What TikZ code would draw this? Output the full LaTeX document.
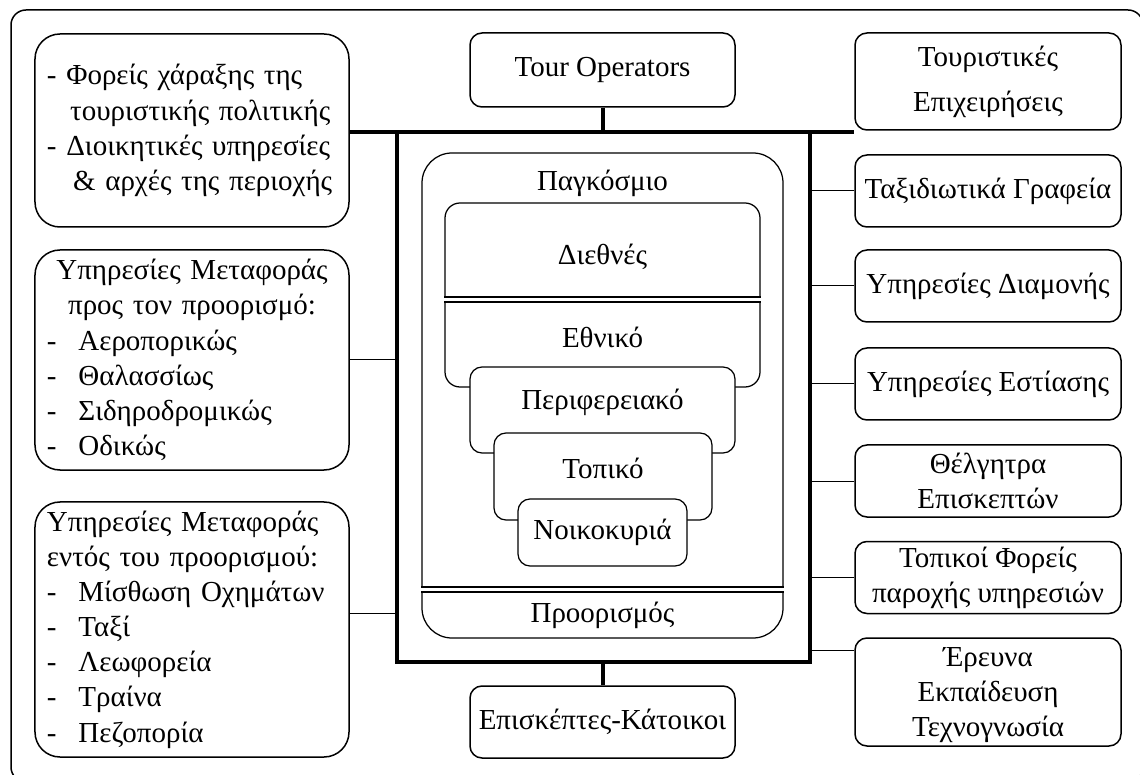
\documentclass[tikz,border=0pt]{standalone}
\usepackage{fontspec}
\setmainfont{Liberation Serif}
\usetikzlibrary{positioning}

\tikzset{
  box/.style={draw, fill=white, line width=0.3mm, rounded corners=2.4mm, inner sep=1pt, align=center},
  sidebox/.style={box, rounded corners=5mm, minimum width=62.8mm, inner xsep=2.4mm, text width=58mm, align=left},
  rbox/.style={box, minimum width=53.2mm},
  lvl/.style={draw, fill=white, line width=0.25mm, rounded corners=2.4mm, inner sep=0pt},
  bus/.style={line width=0.8mm},
  link/.style={line width=0.2mm},
  dbl/.style={double, line width=0.5mm, double distance=0.5mm}
}

\begin{document}
\begin{tikzpicture}[x=0.2mm, y=-0.2mm, font=\fontsize{16.5}{20}\selectfont]
        \useasboundingbox (0,0) rectangle (1140,775);

        % Outer frame
        \draw[line width=0.3mm, rounded corners=3mm] (11,10) rectangle (1143,782);

        % Left side boxes
        \node[sidebox, minimum height=38.6mm] (policy) at (192,130.5)
            {- Φορείς χάραξης της\\\hspace*{0.8em}τουριστικής πολιτικής\\- Διοικητικές υπηρεσίες\\\hspace*{0.9em}\& αρχές της περιοχής};
        \node[sidebox, minimum height=44mm] (transTo) at (192,360)
            {{\centering Υπηρεσίες Μεταφοράς\\προς τον προορισμό:\par}
             -\hspace{0.75em}Αεροπορικώς\\-\hspace{0.75em}Θαλασσίως\\-\hspace{0.75em}Σιδηροδρομικώς\\-\hspace{0.75em}Οδικώς};
        \node[sidebox, minimum height=51mm] (transIn) at (192,629.5)
            {Υπηρεσίες Μεταφοράς\\εντός του προορισμού:\\-\hspace{0.75em}Μίσθωση Οχημάτων\\-\hspace{0.75em}Ταξί\\-\hspace{0.75em}Λεωφορεία\\-\hspace{0.75em}Τραίνα\\-\hspace{0.75em}Πεζοπορία};

        % Top and bottom boxes
        \node[box, minimum width=53mm, minimum height=14.8mm] (tour) at (602.5,70) {Tour Operators};
        \node[box, minimum width=53mm, minimum height=14.4mm] (visit) at (602.5,722) {Επισκέπτες-Κάτοικοι};

        % Right side boxes
        \foreach \name/\y/\h/\txt in {
            comp/81.5/19.4/{Τουριστικές\\[2mm]Επιχειρήσεις},
            agency/191/14.4/{Ταξιδιωτικά Γραφεία},
            stay/286/14.4/{Υπηρεσίες Διαμονής},
            food/384/14.4/{Υπηρεσίες Εστίασης},
            attr/481/14.4/{Θέλγητρα\\Επισκεπτών},
            provider/577.5/14.4/{Τοπικοί Φορείς\\παροχής υπηρεσιών},
            research/692/21.6/{}} {
            \node[rbox, minimum height=\h mm] (\name) at (988,\y) {\txt};
        }
        \node[align=center] (researchLbl) at (988,695) {Έρευνα\\Εκπαίδευση\\Τεχνογνωσία};

        % Thick frame round the destination
        \coordinate (busNW) at (397,132);
        \coordinate (busSE) at (810,662);
        \draw[bus] (busNW) rectangle (busSE);
        \draw[bus] (busNW -| policy.east) -- (busNW -| comp.west);
        \draw[bus] (tour) -- (tour |- busNW);
        \draw[bus] (visit) -- (visit |- busSE);

        % Thin connectors
        \draw[link] (transTo.east) -- (transTo.east -| busNW);
        \draw[link] ([yshift=3.2mm]transIn.east) -- ([yshift=3.2mm]transIn.east -| busNW);
        \foreach \name in {agency,stay,food,attr,provider} {
            \draw[link] (\name.west) -- (\name.west -| busSE);
        }
        \coordinate (resJoin) at (810,650);
        \draw[link] (resJoin) -- (resJoin -| research.west);

        % Nested levels
        \node[lvl, rounded corners=6mm, minimum width=72.2mm, minimum height=97mm] (world) at (602.5,395.5) {};
        \node (worldLbl) at (602.5,183) {Παγκόσμιο};
        \node[lvl, rounded corners=3mm, minimum width=63mm, minimum height=36.8mm] (intl) at (602.5,295) {};
        \node (intlLbl) at (602.5,257) {Διεθνές};
        \draw[dbl] (intl.west |- 0,299.5) -- (intl.east |- 0,299.5);
        \node (natLbl) at (602.5,337) {Εθνικό};
        \node[lvl, minimum width=53mm, minimum height=17.2mm] (region) at (602.5,410) {};
        \node (regionLbl) at (602.5,402) {Περιφερειακό};
        \node[lvl, minimum width=43.6mm, minimum height=17.4mm] (local) at (603,476.5) {};
        \node (localLbl) at (603,468) {Τοπικό};
        \node[lvl, minimum width=33.8mm, minimum height=13.4mm] (house) at (602.5,532.5) {Νοικοκυριά};
        \draw[dbl] (world.west |- 0,589.5) -- (world.east |- 0,589.5);
        \node (destLbl) at (602.5,615) {Προορισμός};
    \end{tikzpicture}
\end{document}
